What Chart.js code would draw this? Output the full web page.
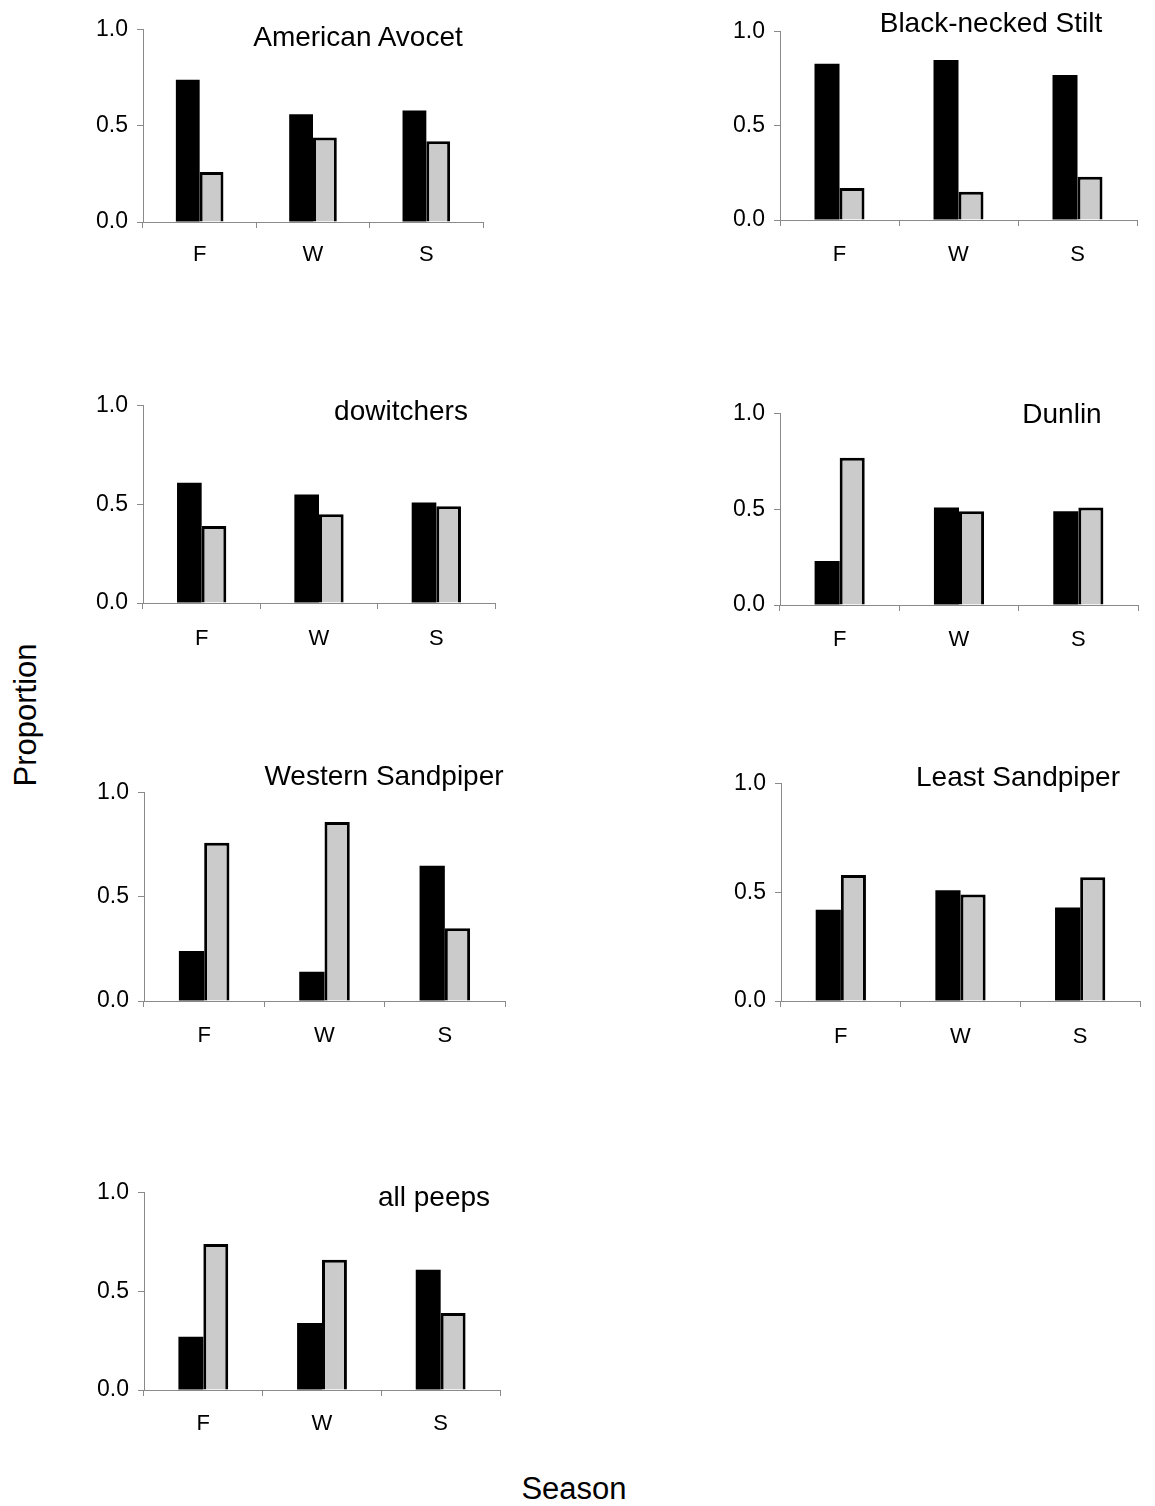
<!DOCTYPE html>
<html>
<head>
<meta charset="utf-8">
<script src="https://cdn.jsdelivr.net/npm/chart.js@4/dist/chart.umd.min.js"></script>
<style>
  html, body { margin: 0; padding: 0; background: #fff; }
  body { width: 1155px; height: 1506px; position: relative; overflow: hidden;
         font-family: "Liberation Sans", Arial, sans-serif; color: #000; }
  canvas { position: absolute; }
  .ttl { position: absolute; font-size: 28px; white-space: nowrap; transform: translate(-50%, -50%); }
  .axis-title { position: absolute; font-size: 31px; white-space: nowrap; }
</style>
</head>
<body>
<script>
// Seasons on the x axis and the value axis ticks
const seasons = ['F', 'W', 'S'];
const yTicks = [0, 0.5, 1.0];

// Proportions per species: dark bar / light bar for each season
const avocetDark = [0.74, 0.56, 0.58];
const avocetLight = [0.26, 0.44, 0.42];
const stiltDark = [0.83, 0.85, 0.77];
const stiltLight = [0.17, 0.15, 0.23];
const dowitcherDark = [0.61, 0.55, 0.51];
const dowitcherLight = [0.39, 0.45, 0.49];
const dunlinDark = [0.23, 0.51, 0.49];
const dunlinLight = [0.77, 0.49, 0.51];
const westernDark = [0.24, 0.14, 0.65];
const westernLight = [0.76, 0.86, 0.35];
const leastDark = [0.42, 0.51, 0.43];
const leastLight = [0.58, 0.49, 0.57];
const peepsDark = [0.27, 0.34, 0.61];
const peepsLight = [0.74, 0.66, 0.39];

const panelTitles = ['American Avocet', 'Black-necked Stilt', 'dowitchers', 'Dunlin',
                     'Western Sandpiper', 'Least Sandpiper', 'all peeps'];

// Page layout of each panel: y-axis x, top and bottom of the plot area, right end of x axis, title centre
const panels = [
  { title: panelTitles[0], dark: avocetDark, light: avocetLight, ax: 143, top: 27, bottom: 222, right: 483, tx: 358, ty: 37, lp: 14 },
  { title: panelTitles[1], dark: stiltDark, light: stiltLight, ax: 780, top: 29, bottom: 220, right: 1137, tx: 991, ty: 23, lp: 16 },
  { title: panelTitles[2], dark: dowitcherDark, light: dowitcherLight, ax: 143, top: 403, bottom: 603, right: 495, tx: 401, ty: 411, lp: 17 },
  { title: panelTitles[3], dark: dunlinDark, light: dunlinLight, ax: 780, top: 411, bottom: 605, right: 1138, tx: 1062, ty: 414, lp: 16 },
  { title: panelTitles[4], dark: westernDark, light: westernLight, ax: 144, top: 790, bottom: 1001, right: 505, tx: 384, ty: 776, lp: 16 },
  { title: panelTitles[5], dark: leastDark, light: leastLight, ax: 781, top: 781, bottom: 1001, right: 1140, tx: 1018, ty: 777, lp: 17 },
  { title: panelTitles[6], dark: peepsDark, light: peepsLight, ax: 144, top: 1190, bottom: 1390, right: 500, tx: 434, ty: 1197, lp: 15 }
];

const Y_AXIS_W = 70, X_AXIS_H = 55, PAD_TOP = 20, PAD_RIGHT = 15;
const AXIS_GRAY = '#8a8a8a';
const FONT = '"Liberation Sans", Arial, sans-serif';

panels.forEach(p => {
  const cv = document.createElement('canvas');
  const w = Y_AXIS_W + (p.right - p.ax) + PAD_RIGHT;
  const h = PAD_TOP + (p.bottom - p.top) + X_AXIS_H;
  cv.width = w; cv.height = h;
  cv.style.left = (p.ax - Y_AXIS_W) + 'px';
  cv.style.top = (p.top - PAD_TOP) + 'px';
  cv.style.width = w + 'px'; cv.style.height = h + 'px';
  document.body.appendChild(cv);

  new Chart(cv, {
    type: 'bar',
    data: {
      labels: seasons,
      datasets: [
        { label: 'dark', data: p.dark, backgroundColor: '#000000', borderWidth: 0 },
        { label: 'light', data: p.light, backgroundColor: '#cbcbcb', borderColor: '#000000', borderWidth: 3 }
      ]
    },
    options: {
      responsive: false,
      animation: false,
      devicePixelRatio: 1,
      layout: { padding: { top: PAD_TOP, right: PAD_RIGHT, left: 0, bottom: 0 } },
      plugins: { legend: { display: false }, tooltip: { enabled: false }, title: { display: false } },
      datasets: { bar: { categoryPercentage: 0.42, barPercentage: 1.0 } },
      scales: {
        x: {
          offset: true,
          grid: { display: true, drawOnChartArea: false, drawTicks: true, tickLength: 6, color: AXIS_GRAY, offset: true },
          border: { display: true, color: AXIS_GRAY, width: 1 },
          ticks: { color: '#000', font: { family: FONT, size: 22 }, padding: p.lp, maxRotation: 0 },
          afterFit: s => { s.height = X_AXIS_H; }
        },
        y: {
          min: 0, max: 1,
          afterBuildTicks: s => { s.ticks = yTicks.map(v => ({ value: v })); },
          grid: { display: true, drawOnChartArea: false, drawTicks: true, tickLength: 6, color: AXIS_GRAY },
          border: { display: true, color: AXIS_GRAY, width: 1 },
          ticks: { color: '#000', font: { family: FONT, size: 23 }, padding: 9,
                   callback: v => Number(v).toFixed(1) },
          afterFit: s => { s.width = Y_AXIS_W; }
        }
      }
    }
  });

  const t = document.createElement('div');
  t.className = 'ttl';
  t.textContent = p.title;
  t.style.left = p.tx + 'px';
  t.style.top = p.ty + 'px';
  document.body.appendChild(t);
});

// Shared axis titles
const yTitle = document.createElement('div');
yTitle.className = 'axis-title';
yTitle.textContent = 'Proportion';
yTitle.style.left = '26px';
yTitle.style.top = '715px';
yTitle.style.transform = 'translate(-50%, -50%) rotate(-90deg)';
document.body.appendChild(yTitle);

const xTitle = document.createElement('div');
xTitle.className = 'axis-title';
xTitle.textContent = 'Season';
xTitle.style.left = '574px';
xTitle.style.top = '1489px';
xTitle.style.transform = 'translate(-50%, -50%)';
document.body.appendChild(xTitle);
</script>
</body>
</html>
